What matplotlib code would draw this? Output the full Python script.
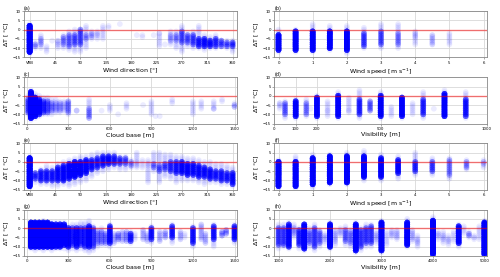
import numpy as np
import matplotlib
matplotlib.use('Agg')
import matplotlib.pyplot as plt

# ---- data: one entry per column of points (x, faint range lo..hi, dense core clo..chi, core weight n)
# (a) wind direction
a_x = [0, 10, 20, 30, 40, 50, 60, 70, 80, 90, 100, 110, 120, 130, 140, 160, 190, 200, 220, 230, 240,
       250, 260, 270, 280, 290, 300, 310, 320, 330, 340, 350, 360]
a_lo = [-13, -10, -10, -12, -6, -10, -10, -11, -12, -12, -10, -5, -5, -5, 1, 3, -3, -4, -3, -9, -8,
        -8, -10, -12, -9, -10, -10, -11, -10, -10, -9, -10, -12]
a_hi = [3, -7, -3, -9, -6, -6, -3, -1, 0, 0, 2, -1, -1, 2, 2, 3, -3, -3, -3, -2, -8,
        -1, -1, 2, -2, -1, 2, -3, -4, -3, -6, -6, -6]
a_clo = [-12, -9, -8, -12, -6, -8, -8, -9, -8, -8, -5, -4, -3, -5, 1, 3, -3, -4, -3, -2, -8,
         -6, -6, -7, -7, -8, -9, -9, -9, -9, -9, -9, -9]
a_chi = [2, -8, -5, -12, -6, -6, -4, -3, -3, 0, -3, -2, -2, -5, 1, 3, -3, -4, -3, -2, -8,
         -3, -3, -1, -3, -3, -5, -5, -6, -5, -6, -7, -7]
a_n = [40, 3, 2, 0, 0, 1, 3, 4, 5, 5, 3, 2, 1, 0, 0, 0, 0, 0, 0, 1, 0,
       2, 3, 5, 5, 6, 10, 12, 12, 8, 6, 6, 8]

# (b) wind speed
b_x = [0, 0.5, 1, 1.5, 2, 2.5, 3, 3.5, 4, 4.5, 5]
b_lo = [-12, -12, -12, -11, -13, -10, -10, -10, -8, -8, -8]
b_hi = [0, 0, 3, 2, 2, 1, 3, 3, -1, -3, -2]
b_clo = [-11, -11, -11, -10, -11, -9, -8, -8, -4, -8, -8]
b_chi = [-3, -1, -1, -1, -1, -2, -1, -2, -2, -3, -3]
b_n = [25, 25, 25, 25, 25, 6, 5, 3, 1, 1, 0]

# (c) cloud base
c_x = [10, 30, 60, 90, 120, 150, 180, 210, 240, 270, 300, 360, 450, 540, 600, 660, 720, 840,
       900, 930, 960, 1050, 1200, 1260, 1350, 1410, 1500]
c_lo = [-10, -13, -12, -11, -10, -10, -10, -9, -9, -8, -10, -8, -12, -8, -8, -10, -7, -5,
        -10, -11, -11, -4, -10, -7, -7, -3, -6]
c_hi = [0, 3, 1, 0, -1, -1, -2, -2, -3, -3, -3, -8, -2, -8, -5, -10, -4, -5,
        -3, -11, -11, -2, -3, -3, -3, -2, -4]
c_clo = [-9, -12, -11, -10, -9, -9, -8, -8, -8, -8, -9, -8, -12, -8, -8, -10, -7, -5,
         -10, -11, -11, -4, -10, -7, -7, -3, -6]
c_chi = [-2, 2, -1, -2, -3, -3, -4, -4, -4, -4, -3, -8, -7, -8, -5, -10, -4, -5,
         -3, -11, -11, -2, -3, -3, -7, -2, -5]
c_n = [6, 30, 25, 15, 8, 5, 3, 2, 2, 1, 3, 2, 3, 0, 0, 0, 0, 0,
       0, 0, 0, 0, 0, 0, 2, 0, 2]

# (d) visibility < 1000 m
d_x = [25, 50, 100, 150, 170, 200, 250, 300, 350, 400, 450, 500, 550, 600, 650, 700, 750, 800, 900]
d_lo = [-7, -12, -12, -11, -7, -12, -11, -12, -9, -12, -8, -12, -11, -12, -10, -12, -7, -11, -12]
d_hi = [-4, -3, -2, -2, -7, 0, -3, 2, -1, 3, -3, 2, -6, -1, -4, 2, -7, 3, 2]
d_clo = [-5, -10, -11, -10, -7, -11, -8, -11, -8, -10, -8, -11, -6, -11, -10, -10, -7, -11, -11]
d_chi = [-4, -4, -3, -4, -7, -1, -8, 0, -8, -2, -3, 0, -6, -1, -10, -2, -7, 1, -2]
d_n = [1, 4, 20, 3, 0, 20, 1, 20, 1, 8, 4, 20, 0, 20, 0, 8, 0, 22, 10]

# (e) wind direction
e_x = list(range(0, 370, 10))
e_lo = [-14, -11, -12, -12, -13, -13, -12, -13, -12, -11, -10, -8, -6, -5, -4, -3, -4, -4, -3,
        -3, -3, -11, -5, -11, -8, -9, -11, -10, -10, -10, -11, -12, -11, -11, -12, -12, -13]
e_hi = [3, -6, -4, -2, -3, -1, 0, 1, 2, 3, 3, 4, 5, 5, 5, 5, 3, 3, 1,
        5, 1, 1, 5, 5, 4, 4, 3, 3, 2, 2, 1, 0, 0, -1, -1, -2, -3]
e_clo = [-13, -9, -10, -10, -10, -10, -10, -9, -8, -7, -6, -4, -3, -2, -1, -1, -1, -1, -2,
         -2, -2, -2, -3, -5, -4, -5, -6, -6, -7, -7, -8, -8, -9, -9, -10, -10, -12]
e_chi = [2, -6, -5, -5, -5, -3, -2, -1, 0, 0, 1, 1, 2, 3, 3, 3, 2, 2, 0,
         0, -1, -1, -1, -2, -1, 0, 0, 0, -1, -1, -2, -3, -4, -5, -5, -6, -6]
e_n = [40, 8, 10, 10, 10, 12, 14, 16, 22, 20, 16, 12, 10, 12, 14, 10, 8, 6, 3,
       1, 0, 1, 4, 5, 6, 8, 10, 14, 14, 12, 12, 12, 12, 10, 10, 10, 12]

# (f) wind speed
f_x = [0, 0.5, 1, 1.5, 2, 2.5, 3, 3.5, 4, 4.5, 5, 5.5, 6]
f_lo = [-14, -14, -14, -12, -12, -10, -10, -9, -7, -7, -9, -4, -3]
f_hi = [1, 3, 4, 4, 5, 6, 4, 3, 5, 2, 2, 1, 1]
f_clo = [-13, -13, -12, -11, -11, -8, -8, -6, -5, -5, -7, -3, -1]
f_chi = [0, 0, 2, 3, 3, 3, 2, 1, 0, 0, 1, 0, 0]
f_n = [30, 30, 30, 30, 30, 25, 20, 15, 8, 6, 3, 3, 2]

# (g) cloud base
g_x = [30, 60, 90, 120, 150, 180, 210, 240, 270, 300, 330, 360, 390, 420, 450, 480, 510, 540, 570,
       600, 630, 660, 690, 720, 750, 780, 840, 870, 900, 960, 1000, 1050, 1110, 1140, 1200, 1260,
       1290, 1350, 1410, 1440, 1500]
g_lo = [-11, -12, -11, -12, -11, -12, -11, -11, -11, -12, -11, -12, -11, -12, -13, -12, -10, -9, -9,
        -10, -8, -7, -7, -7, -8, -6, -6, -7, -8, -7, -5, -8, -6, -5, -10, -6,
        -8, -10, -4, -3, -8]
g_hi = [3, 3, 3, 4, 3, 3, 3, 3, 3, 1, 2, 2, 3, 3, 4, 1, -1, 0, -2,
        2, -3, -3, -2, -2, -2, -3, -1, -3, 1, -2, -2, 2, -2, -3, 1, 2,
        -3, 2, -2, -1, 2]
g_clo = [-10, -10, -10, -10, -10, -10, -10, -10, -9, -10, -9, -10, -9, -10, -10, -10, -8, -8, -8,
         -8, -8, -6, -7, -7, -7, -6, -6, -7, -6, -7, -5, -5, -6, -5, -8, -6,
         -8, -6, -4, -3, -6]
g_chi = [3, 3, 3, 3, 3, 2, 2, 2, 2, 0, 0, 0, 0, 0, 1, 0, -2, -2, -3,
         1, -3, -3, -2, -2, -3, -3, -1, -3, 0, -2, -2, 1, -2, -3, 0, 2,
         -3, 1, -2, -1, 1]
g_n = [30, 30, 30, 30, 30, 30, 20, 20, 20, 15, 8, 12, 8, 8, 15, 6, 3, 3, 3,
       12, 1, 3, 1, 2, 10, 0, 1, 1, 10, 1, 2, 10, 1, 0, 10, 1,
       1, 10, 3, 3, 12]

# (h) visibility >= 1000 m
h_x = [1000, 1100, 1200, 1300, 1400, 1500, 1600, 1700, 1800, 1900, 2000, 2100, 2200, 2300, 2400,
       2500, 2600, 2700, 2800, 2900, 3000, 3100, 3200, 3300, 3500, 3600, 3700, 4000, 4100, 4200,
       4300, 4400, 4500, 4600, 4700, 4800, 4900, 5000]
h_lo = [-11, -10, -11, -5, -11, -12, -10, -12, -10, -8, -11, -9, -4, -9, -10, -13, -12, -10, -10,
        -8, -13, -9, -5, -6, -10, -7, -10, -15, -6, -8, -9, -7, -10, -3, -5, -6, -6, -15]
h_hi = [2, 2, 3, 2, 0, 2, 0, 2, -1, -3, 3, -1, 0, 1, -1, 3, 0, 2, 2, -2, 4, -2, -1, -1, 5, -1,
        -4, 6, -2, -2, -4, -2, 2, 1, -2, -4, 1, 4]
h_clo = [-9, -9, -10, -3, -9, -11, -8, -10, -8, -6, -10, -7, -3, -7, -8, -12, -10, -8, -8, -6,
         -12, -7, -4, -5, -9, -6, -8, -14, -4, -6, -7, -5, -8, -2, -4, -5, -4, -14]
h_chi = [0, 0, 2, 0, -1, 2, -2, 0, -2, -4, 2, -2, -1, -1, -2, 2, -1, 0, 1, -3, 3, -3, -2, -2, 3,
         -2, -6, 4, -3, -4, -6, -4, 1, -1, -3, -5, -1, 3]
h_n = [6, 6, 15, 2, 8, 22, 4, 6, 4, 1, 25, 1, 1, 4, 3, 25, 6, 6, 6, 1, 28, 0, 1, 1, 25, 1, 1,
       30, 1, 1, 1, 0, 20, 0, 3, 1, 0, 30]


def columns(xs, lo, hi, clo, chi, n):
    # temperatures are whole degrees, so each column is a stack of integer values
    px, py = [], []
    for x, a, b, c, d, k in zip(xs, lo, hi, clo, chi, n):
        ys = list(range(a, b + 1)) + list(range(c, d + 1)) * k
        px += [x] * len(ys)
        py += ys
    return px, py


panels = [
    ('(a)', (a_x, a_lo, a_hi, a_clo, a_chi, a_n), 'Wind direction [$\\degree$]'),
    ('(b)', (b_x, b_lo, b_hi, b_clo, b_chi, b_n), 'Wind speed [m s$^{-1}$]'),
    ('(c)', (c_x, c_lo, c_hi, c_clo, c_chi, c_n), 'Cloud base [m]'),
    ('(d)', (d_x, d_lo, d_hi, d_clo, d_chi, d_n), 'Visibility [m]'),
    ('(e)', (e_x, e_lo, e_hi, e_clo, e_chi, e_n), 'Wind direction [$\\degree$]'),
    ('(f)', (f_x, f_lo, f_hi, f_clo, f_chi, f_n), 'Wind speed [m s$^{-1}$]'),
    ('(g)', (g_x, g_lo, g_hi, g_clo, g_chi, g_n), 'Cloud base [m]'),
    ('(h)', (h_x, h_lo, h_hi, h_clo, h_chi, h_n), 'Visibility [m]'),
]

fig, axes = plt.subplots(4, 2, figsize=(5, 2.77), dpi=100)
plt.subplots_adjust(left=0.048, right=0.974, top=0.96, bottom=0.076, wspace=0.178, hspace=0.43)

for ax, (label, cols, xlab) in zip(axes.flat, panels):
    px, py = columns(*cols)
    ax.scatter(px, py, s=17, color='blue', alpha=0.08, edgecolors='none', zorder=2)
    ax.axhline(0, color='red', alpha=0.5, lw=1, zorder=3)
    ax.set_ylim(-15, 10)
    ax.set_yticks([-15, -10, -5, 0, 5, 10])
    ax.grid(True, color='#d8d8d8', lw=0.6, zorder=0)
    ax.set_axisbelow(True)
    ax.set_title(label, loc='left', fontsize=3.5, pad=1)
    ax.set_xlabel(xlab, fontsize=4.5, labelpad=1)
    ax.set_ylabel('$\\Delta$T [ $\\degree$C]', fontsize=4.5, labelpad=1)
    ax.tick_params(labelsize=2.8, length=1.5, width=0.4, pad=1, color='#666666')
    for sp in ax.spines.values():
        sp.set_color('#888888')
        sp.set_linewidth(0.6)

wd_ticks = [0, 45, 90, 135, 180, 225, 270, 315, 360]
wd_labels = ['VRB', '45', '90', '135', '180', '225', '270', '315', '360']
for ax in (axes[0, 0], axes[2, 0]):
    ax.set_xlim(-10, 367)
    ax.set_xticks(wd_ticks)
    ax.set_xticklabels(wd_labels)
for ax in (axes[0, 1], axes[2, 1]):
    ax.set_xlim(-0.12, 6.1)
    ax.set_xticks([0, 1, 2, 3, 4, 5, 6])
for ax in (axes[1, 0], axes[3, 0]):
    ax.set_xlim(-20, 1515)
    ax.set_xticks([0, 300, 600, 900, 1200, 1500])
axes[1, 1].set_xlim(0, 1000)
axes[1, 1].set_xticks([0, 100, 200, 500, 1000])
axes[3, 1].set_xlim(920, 5050)
axes[3, 1].set_xticks([1000, 2000, 3000, 4000, 5000])

plt.savefig('out.png', dpi=100)
